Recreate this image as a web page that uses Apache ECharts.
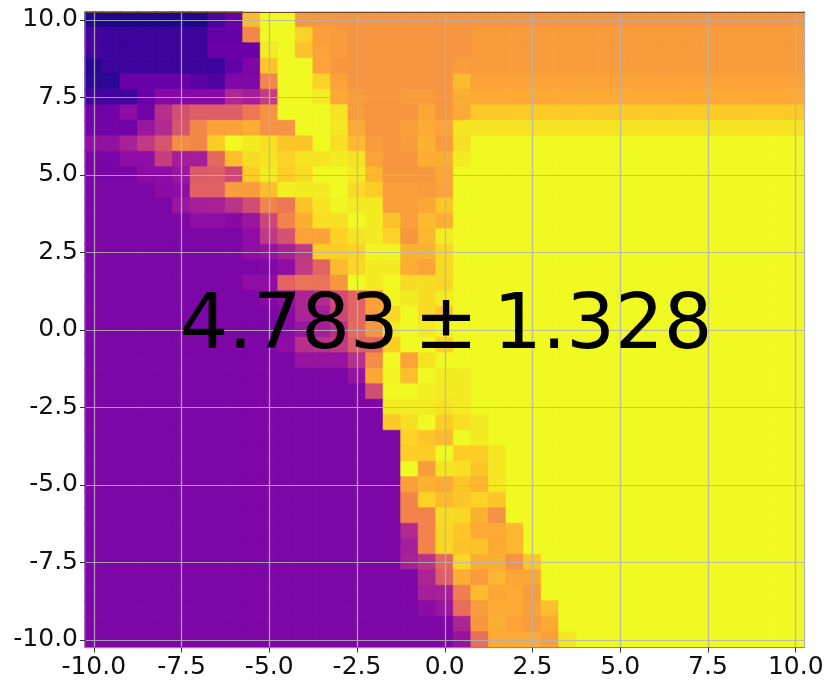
<!DOCTYPE html>
<html>
<head>
<meta charset="utf-8">
<script src="https://cdn.jsdelivr.net/npm/echarts@6/dist/echarts.min.js"></script>
<style>
  html, body { margin: 0; padding: 0; background: #fff; }
  #chart { width: 830px; height: 690px; }
</style>
</head>
<body>
<div id="chart"></div>
<script>
// axis categories, -10 to 10 in steps of 0.5
const xLabels = ["-10.0","-9.5","-9.0","-8.5","-8.0","-7.5","-7.0","-6.5","-6.0","-5.5","-5.0","-4.5","-4.0","-3.5","-3.0","-2.5","-2.0","-1.5","-1.0","-0.5","0.0","0.5","1.0","1.5","2.0","2.5","3.0","3.5","4.0","4.5","5.0","5.5","6.0","6.5","7.0","7.5","8.0","8.5","9.0","9.5","10.0"];
const yLabels = xLabels.slice();
// thin spaces around the sign, the reference sets it tighter than a normal space
const scoreText = "4.783\u2009±\u20091.328";
// position on the plasma scale (0-100), first row is y = 10, last is y = -10
const cells = [
  [3,3,3,3,3,3,3,12,20,85,100,100,76,76,75,75,75,75,75,75,75,75,75,75,75,75,75,75,75,75,75,75,75,75,75,75,75,75,75,75,75],
  [11,9,9,9,9,9,9,19,19,71,100,100,91,78,77,75,75,75,75,75,75,75,77,77,77,77,77,77,77,77,77,77,77,77,77,77,77,77,77,77,77],
  [12,9,9,9,9,9,9,20,20,20,97,100,87,79,77,75,75,75,75,75,75,75,77,77,77,77,77,77,77,77,77,77,77,77,77,77,77,77,77,77,77],
  [5,9,9,9,9,9,9,9,18,25,88,100,100,79,76,75,75,75,75,75,75,77,77,77,77,77,77,77,77,77,77,77,77,77,77,77,77,77,77,77,77],
  [6,6,20,20,20,20,16,14,26,26,71,100,100,91,79,75,75,75,75,75,75,85,79,79,79,79,79,79,79,79,79,79,79,79,79,79,79,79,79,79,79],
  [10,10,10,19,27,27,27,27,39,36,47,100,100,97,81,77,75,75,77,77,75,82,81,81,81,81,81,81,81,81,81,81,81,81,81,81,81,81,81,81,81],
  [22,22,30,22,42,53,58,58,58,66,74,100,100,100,95,77,75,75,75,80,76,81,89,89,89,89,89,89,89,89,89,89,89,89,89,89,89,89,89,89,89],
  [22,22,22,33,40,55,71,79,79,82,74,74,100,100,96,81,75,75,78,81,79,95,95,95,95,95,95,95,95,95,95,95,95,95,95,95,95,95,95,95,95],
  [31,31,37,46,55,73,71,90,100,97,94,88,88,100,94,85,77,75,77,83,77,94,100,100,100,100,100,100,100,100,100,100,100,100,100,100,100,100,100,100,100],
  [24,24,30,30,47,36,36,62,86,93,95,91,95,95,97,95,79,75,75,82,82,97,100,100,100,100,100,100,100,100,100,100,100,100,100,100,100,100,100,100,100],
  [24,24,24,29,29,33,57,58,50,90,97,90,93,100,100,97,84,76,76,76,80,100,100,100,100,100,100,100,100,100,100,100,100,100,100,100,100,100,100,100,100],
  [25,25,25,25,29,30,59,59,77,77,86,98,97,97,100,93,90,78,78,77,79,100,100,100,100,100,100,100,100,100,100,100,100,100,100,100,100,100,100,100,100],
  [25,25,25,25,25,33,36,37,43,52,70,66,87,95,99,97,97,78,78,80,88,100,100,100,100,100,100,100,100,100,100,100,100,100,100,100,100,100,100,100,100],
  [25,25,25,25,25,25,30,30,28,33,50,70,82,94,94,100,97,87,78,85,82,100,100,100,100,100,100,100,100,100,100,100,100,100,100,100,100,100,100,100,100],
  [25,25,25,25,25,25,25,25,25,30,45,54,79,79,91,95,97,91,76,84,97,100,100,100,100,100,100,100,100,100,100,100,100,100,100,100,100,100,100,100,100],
  [25,25,25,25,25,25,25,25,25,30,32,37,45,90,90,91,99,99,83,83,92,100,100,100,100,100,100,100,100,100,100,100,100,100,100,100,100,100,100,100,100],
  [25,25,25,25,25,25,25,25,25,25,26,30,46,60,85,92,97,97,82,79,93,100,100,100,100,100,100,100,100,100,100,100,100,100,100,100,100,100,100,100,100],
  [25,25,25,25,25,25,25,25,25,30,30,60,65,65,76,100,97,100,93,93,92,100,100,100,100,100,100,100,100,100,100,100,100,100,100,100,100,100,100,100,100],
  [25,25,25,25,25,25,25,25,25,25,28,31,38,40,52,60,78,99,97,93,97,100,100,100,100,100,100,100,100,100,100,100,100,100,100,100,100,100,100,100,100],
  [25,25,25,25,25,25,25,25,25,25,25,28,38,36,50,60,78,92,100,93,88,100,100,100,100,100,100,100,100,100,100,100,100,100,100,100,100,100,100,100,100],
  [25,25,25,25,25,25,25,25,25,25,25,28,33,36,42,62,75,97,100,97,99,100,100,100,100,100,100,100,100,100,100,100,100,100,100,100,100,100,100,100,100],
  [25,25,25,25,25,25,25,25,25,25,25,30,42,43,45,58,60,90,100,100,91,100,100,100,100,100,100,100,100,100,100,100,100,100,100,100,100,100,100,100,100],
  [25,25,25,25,25,25,25,25,25,25,25,25,32,32,32,42,72,100,79,95,100,100,100,100,100,100,100,100,100,100,100,100,100,100,100,100,100,100,100,100,100],
  [25,25,25,25,25,25,25,25,25,25,25,25,25,25,25,32,80,99,86,100,97,97,100,100,100,100,100,100,100,100,100,100,100,100,100,100,100,100,100,100,100],
  [25,25,25,25,25,25,25,25,25,25,25,25,25,25,25,25,52,100,100,98,97,97,100,100,100,100,100,100,100,100,100,100,100,100,100,100,100,100,100,100,100],
  [25,25,25,25,25,25,25,25,25,25,25,25,25,25,25,25,25,97,97,97,95,97,100,100,100,100,100,100,100,100,100,100,100,100,100,100,100,100,100,100,100],
  [25,25,25,25,25,25,25,25,25,25,25,25,25,25,25,25,25,89,94,100,90,94,97,100,100,100,100,100,100,100,100,100,100,100,100,100,100,100,100,100,100],
  [25,25,25,25,25,25,25,25,25,25,25,25,25,25,25,25,25,25,91,88,85,100,97,100,100,100,100,100,100,100,100,100,100,100,100,100,100,100,100,100,100],
  [25,25,25,25,25,25,25,25,25,25,25,25,25,25,25,25,25,25,90,90,100,90,90,96,100,100,100,100,100,100,100,100,100,100,100,100,100,100,100,100,100],
  [25,25,25,25,25,25,25,25,25,25,25,25,25,25,25,25,25,25,100,77,95,94,88,96,100,100,100,100,100,100,100,100,100,100,100,100,100,100,100,100,100],
  [25,25,25,25,25,25,25,25,25,25,25,25,25,25,25,25,25,25,78,83,81,88,84,96,100,100,100,100,100,100,100,100,100,100,100,100,100,100,100,100,100],
  [25,25,25,25,25,25,25,25,25,25,25,25,25,25,25,25,25,25,70,91,85,88,91,88,100,100,100,100,100,100,100,100,100,100,100,100,100,100,100,100,100],
  [25,25,25,25,25,25,25,25,25,25,25,25,25,25,25,25,25,25,70,70,93,92,83,74,100,100,100,100,100,100,100,100,100,100,100,100,100,100,100,100,100],
  [25,25,25,25,25,25,25,25,25,25,25,25,25,25,25,25,25,25,40,70,92,88,81,81,84,100,100,100,100,100,100,100,100,100,100,100,100,100,100,100,100],
  [25,25,25,25,25,25,25,25,25,25,25,25,25,25,25,25,25,25,36,70,92,87,87,81,84,100,100,100,100,100,100,100,100,100,100,100,100,100,100,100,100],
  [25,25,25,25,25,25,25,25,25,25,25,25,25,25,25,25,25,25,37,43,62,92,82,82,74,88,100,100,100,100,100,100,100,100,100,100,100,100,100,100,100],
  [25,25,25,25,25,25,25,25,25,25,25,25,25,25,25,25,25,25,25,38,58,82,77,84,80,80,100,100,100,100,100,100,100,100,100,100,100,100,100,100,100],
  [25,25,25,25,25,25,25,25,25,25,25,25,25,25,25,25,25,25,25,36,37,68,85,80,81,77,100,100,100,100,100,100,100,100,100,100,100,100,100,100,100],
  [25,25,25,25,25,25,25,25,25,25,25,25,25,25,25,25,25,25,25,29,33,63,77,81,81,78,86,100,100,100,100,100,100,100,100,100,100,100,100,100,100],
  [25,25,25,25,25,25,25,25,25,25,25,25,25,25,25,25,25,25,25,25,25,38,76,82,79,77,81,100,100,100,100,100,100,100,100,100,100,100,100,100,100],
  [25,25,25,25,25,25,25,25,25,25,25,25,25,25,25,25,25,25,25,25,25,32,63,81,81,81,78,96,100,100,100,100,100,100,100,100,100,100,100,100,100]
];
const plasma = ["#0d0887","#41049d","#6a00a8","#8f0da4","#b12a90","#cc4778","#e16462","#f2844b","#fca636","#fcce25","#f0f921"];

let seriesData = [];
cells.forEach((row, i) => {
  row.forEach((v, j) => {
    // border in the cell's own colour hides the seams between cells
    seriesData.push({
      value: [j, 40 - i, v],
      itemStyle: { borderColor: echarts.color.lerp(v / 100, plasma), borderWidth: 0.6 },
    });
  });
});

const fontName = "DejaVu Sans";
const myChart = echarts.init(document.getElementById("chart"), null, { renderer: "canvas" });

function makeAxis(labels, position, isMain, lineColor, gridWidth) {
  return {
    type: "category",
    data: labels,
    position: position,
    z: 5,
    axisLine: { show: true, lineStyle: { color: lineColor, width: 1 } },
    axisTick: { show: isMain, alignWithLabel: true, interval: 4, length: 5, lineStyle: { color: "#333", width: 1 } },
    axisLabel: { show: isMain, interval: 4, margin: 7, fontFamily: fontName, fontSize: 25, color: "#111" },
    splitLine: { show: isMain, alignWithLabel: true, interval: 4, lineStyle: { color: "rgba(180,180,180,0.85)", width: gridWidth } },
    splitArea: { show: false },
  };
}

myChart.setOption({
  animation: false,
  backgroundColor: "#fff",
  grid: { left: 85, right: 25.5, top: 12, bottom: 42.5, containLabel: false },
  xAxis: [makeAxis(xLabels, "bottom", true, "#8a8a8a", 1.3), makeAxis(xLabels, "top", false, "#6b4a2a", 1)],
  yAxis: [makeAxis(yLabels, "left", true, "#555", 1), makeAxis(yLabels, "right", false, "#b0b0b0", 1)],
  visualMap: { show: false, min: 0, max: 100, dimension: 2, inRange: { color: plasma } },
  series: [
    {
      type: "heatmap",
      data: seriesData,
      progressive: 0,
      emphasis: { disabled: true },
    },
  ],
  graphic: [
    {
      type: "text",
      z: 100,
      x: 446,
      y: 328,
      style: { text: scoreText, fontFamily: fontName, fontSize: 76.5, fill: "#000", textAlign: "center", textVerticalAlign: "middle" },
    },
  ],
});
</script>
</body>
</html>
